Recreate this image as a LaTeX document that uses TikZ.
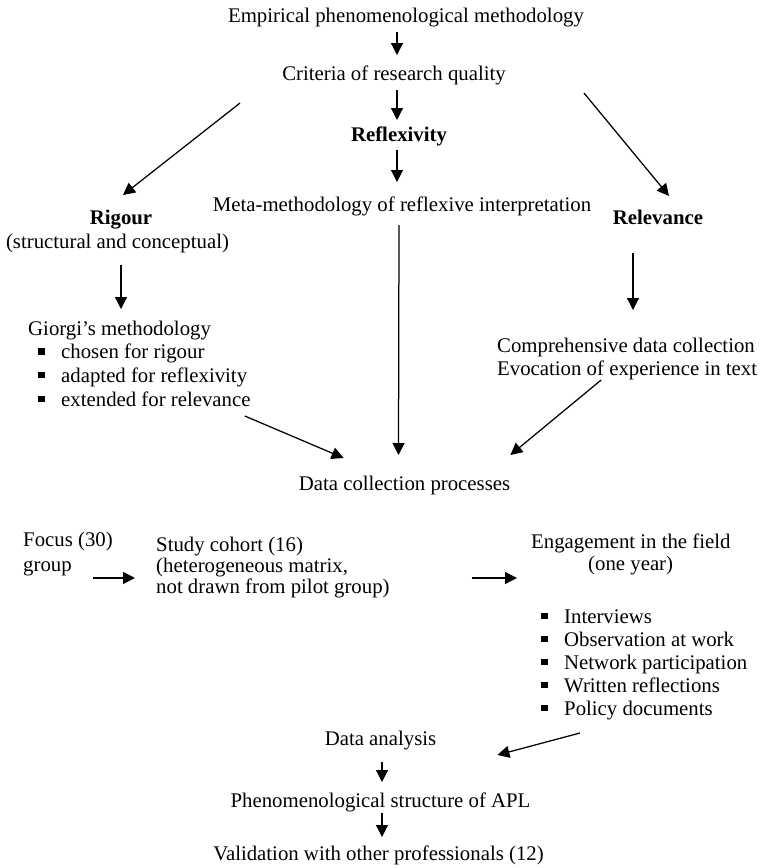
\documentclass[tikz,border=0pt]{standalone}
\usepackage{fontspec}
\setmainfont{Liberation Serif}
\usetikzlibrary{arrows.meta}
\newcommand{\bsq}{\rule[4pt]{6.5pt}{6.5pt}\hspace*{16.5pt}}
\begin{document}
\begin{tikzpicture}[x=1pt,y=-1pt,
  txt/.style={inner sep=0pt,font=\fontsize{20.8}{24}\selectfont},
  btxt/.style={txt,font=\fontsize{20.8}{24}\selectfont\bfseries},
  arr/.style={line width=1.25pt,-{Triangle[length=12pt,width=12pt]}}]
\useasboundingbox (0,0) rectangle (760,868);
% nodes
\node[txt,anchor=base] (emp) at (406,22) {Empirical phenomenological methodology};
\node[txt,anchor=base] (crit) at (394,80) {Criteria of research quality};
\node[btxt,anchor=base] (refl) at (399,141) {Reflexivity};
\node[txt,anchor=base] (meta) at (402,211) {Meta-methodology of reflexive interpretation};
\node[btxt,anchor=base] (rig) at (121,224) {Rigour};
\node[txt,anchor=base] (rigsub) at (117.5,248) {(structural and conceptual)};
\node[btxt,anchor=base] (rel) at (658,224) {Relevance};
\node[txt,anchor=base west,align=left,font=\fontsize{20.8}{23.6}\selectfont] (giorgi) at (28,406)
  {Giorgi’s methodology\\
   \hspace*{10pt}\bsq chosen for rigour\\
   \hspace*{10pt}\bsq adapted for reflexivity\\
   \hspace*{10pt}\bsq extended for relevance};
\node[txt,anchor=base west,align=left,font=\fontsize{20.8}{23}\selectfont] (comp) at (497,375)
  {Comprehensive data collection\\ Evocation of experience in text};
\node[txt,anchor=base] (dcp) at (404.5,490) {Data collection processes};
\node[txt,anchor=base west,align=left,font=\fontsize{20.8}{25}\selectfont] (focus) at (23,571) {Focus (30)\\ group};
\node[txt,anchor=base west,align=left,font=\fontsize{20.8}{21}\selectfont] (study) at (156,593)
  {Study cohort (16)\\ (heterogeneous matrix,\\ not drawn from pilot group)};
\node[txt,anchor=base west,align=left,font=\fontsize{20.8}{22}\selectfont] (eng) at (531,570)
  {Engagement in the field\\ \hspace*{57pt}(one year)};
\node[txt,anchor=base west,align=left,font=\fontsize{20.8}{23}\selectfont] (fld) at (541,715)
  {\bsq Interviews\\ \bsq Observation at work\\ \bsq Network participation\\ \bsq Written reflections\\ \bsq Policy documents};
\node[txt,anchor=base] (da) at (380.5,745) {Data analysis};
\node[txt,anchor=base] (phen) at (380.5,807) {Phenomenological structure of APL};
\node[txt,anchor=base] (val) at (378.5,860) {Validation with other professionals (12)};
% connectors
\draw[arr] ([xshift=-9pt,yshift=-10pt]emp.base) -- ([xshift=3pt,yshift=25pt]crit.base);
\draw[arr] ([xshift=3pt,yshift=-10pt]crit.base) -- ([xshift=-2pt,yshift=21pt]refl.base);
\draw[arr] ([xshift=-2pt,yshift=-9pt]refl.base) -- ([xshift=-5pt,yshift=29pt]meta.base);
\draw[arr] ([xshift=-42pt,yshift=-23pt]crit.base west) -- ([xshift=2pt,yshift=29pt]rig.base);
\draw[arr] ([xshift=78pt,yshift=-13pt]crit.base east) -- ([xshift=11pt,yshift=28pt]rel.base);
\draw[arr] ([xshift=3.5pt,yshift=-17pt]rigsub.base) -- ([xshift=93pt,yshift=97pt]giorgi.base west);
\draw[arr] ([xshift=-25pt,yshift=-29pt]rel.base) -- ([xshift=136pt,yshift=65pt]comp.base west);
\draw[arr] ([xshift=-3pt,yshift=-14pt]meta.base) -- ([xshift=-6pt,yshift=35pt]dcp.base);
\draw[arr] ([xshift=-6pt,yshift=-10pt]giorgi.base east) -- ([xshift=45pt,yshift=32pt]dcp.base west);
\draw[arr] ([xshift=-26pt,yshift=-5pt]comp.base) -- ([yshift=35pt]dcp.base east);
\draw[arr] ([xshift=70pt,yshift=-7pt]focus.base west) -- ([xshift=-21pt,yshift=15pt]study.base west);
\draw[arr] ([xshift=82pt,yshift=15pt]study.base east) -- ([xshift=-14pt,yshift=-8pt]eng.base west);
\draw[arr] ([xshift=39pt,yshift=-18pt]fld.base west) -- ([xshift=61pt,yshift=-10pt]da.base east);
\draw[arr] ([xshift=1.5pt,yshift=-17pt]da.base) -- ([xshift=1.5pt,yshift=25pt]phen.base);
\draw[arr] ([xshift=1.5pt,yshift=-6pt]phen.base) -- ([xshift=3.5pt,yshift=23pt]val.base);
\end{tikzpicture}
\end{document}
